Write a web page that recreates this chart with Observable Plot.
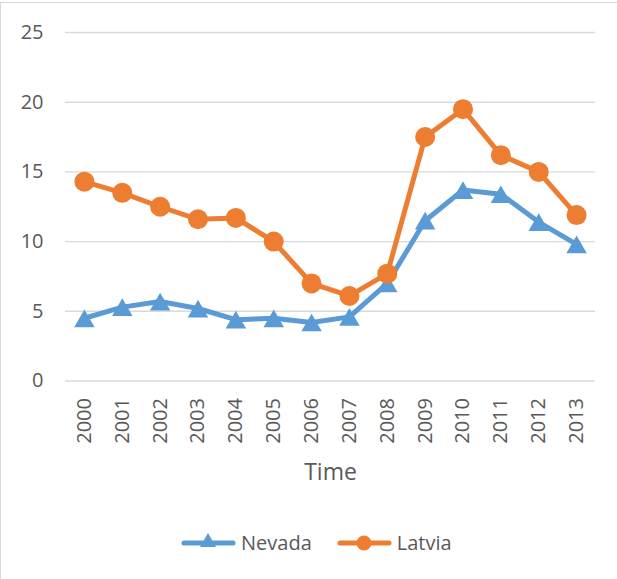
<!DOCTYPE html>
<html>
<head>
<meta charset="utf-8">
<script src="https://cdn.jsdelivr.net/npm/d3@7"></script>
<script src="https://cdn.jsdelivr.net/npm/@observablehq/plot@0.6"></script>
<style>
  body { margin: 0; background: #fff; }
  #wrap { position: relative; width: 617px; height: 579px; overflow: hidden; font-family: "Open Sans", sans-serif; }
  #frame { position: absolute; left: 0; top: 2px; width: 640px; height: 600px; box-sizing: border-box; border-top: 1px solid #d9d9d9; border-left: 1px solid #d9d9d9; }
  #plot { position: absolute; left: 0; top: 0; }
  #legend { position: absolute; left: 181px; top: 529px; display: flex; align-items: center; color: #595959; font-size: 20px; }
  .item { display: flex; align-items: center; margin-right: 25px; }
  .item svg { margin-right: 5px; }
</style>
</head>
<body>
<div id="wrap">
  <div id="frame"></div>
  <div id="plot"></div>
  <div id="legend"></div>
</div>
<script>
const years = ["2000","2001","2002","2003","2004","2005","2006","2007","2008","2009","2010","2011","2012","2013"];
const nevada = [4.5, 5.3, 5.7, 5.2, 4.4, 4.5, 4.2, 4.6, 7.0, 11.5, 13.7, 13.4, 11.4, 9.8];
const latvia = [14.3, 13.5, 12.5, 11.6, 11.7, 10.0, 7.0, 6.1, 7.7, 17.5, 19.5, 16.2, 15.0, 11.9];
const yTicks = [0, 5, 10, 15, 20, 25];
const seriesNames = ["Nevada", "Latvia"];
const colors = {Nevada: "#5B9BD5", Latvia: "#ED7D31"};

const nevRows = years.map((y, i) => ({year: y, value: nevada[i]}));
const latRows = years.map((y, i) => ({year: y, value: latvia[i]}));

const chart = Plot.plot({
  width: 617,
  height: 500,
  marginLeft: 65,
  marginRight: 22,
  marginTop: 32,
  marginBottom: 119.5,
  style: {fontFamily: "'Open Sans', sans-serif", fontSize: "20px", color: "#595959", background: "transparent"},
  x: {type: "point", domain: years, padding: 0.5, round: false},
  y: {domain: [0, 25]},
  marks: [
    Plot.gridY(yTicks, {stroke: "#d9d9d9", strokeOpacity: 1, strokeWidth: 1.4}),
    Plot.axisY(yTicks, {tickSize: 0, tickPadding: 22, label: null, fill: "#595959", fontSize: 20}),
    Plot.axisX({tickRotate: -90, tickSize: 0, tickPadding: 17, fill: "#595959", fontSize: 20, label: null}),
    Plot.axisX({ticks: [], tickSize: 0, fill: "#595959", fontSize: 23,
      label: "Time", labelAnchor: "center", labelArrow: "none", labelOffset: 99}),
    Plot.lineY(nevRows, {x: "year", y: "value", stroke: colors.Nevada, strokeWidth: 5, strokeLinejoin: "round"}),
    Plot.dot(nevRows, {x: "year", y: "value", symbol: "triangle", r: 7.6, fill: colors.Nevada, dy: 3}),
    Plot.lineY(latRows, {x: "year", y: "value", stroke: colors.Latvia, strokeWidth: 5, strokeLinejoin: "round"}),
    Plot.dot(latRows, {x: "year", y: "value", symbol: "circle", r: 10, fill: colors.Latvia})
  ]
});
document.getElementById("plot").appendChild(chart);

const legend = document.getElementById("legend");
seriesNames.forEach(name => {
  const item = document.createElement("div");
  item.className = "item";
  const c = colors[name];
  const marker = name === "Nevada"
    ? `<path d="M27,3 L35,17 L19,17 Z" fill="${c}"/>`
    : `<circle cx="27" cy="13" r="7.5" fill="${c}"/>`;
  item.innerHTML = `<svg width="55" height="26" viewBox="0 0 55 26"><line x1="3" y1="13" x2="52" y2="13" stroke="${c}" stroke-width="5" stroke-linecap="round"/>${marker}</svg><span>${name}</span>`;
  legend.appendChild(item);
});
</script>
</body>
</html>
